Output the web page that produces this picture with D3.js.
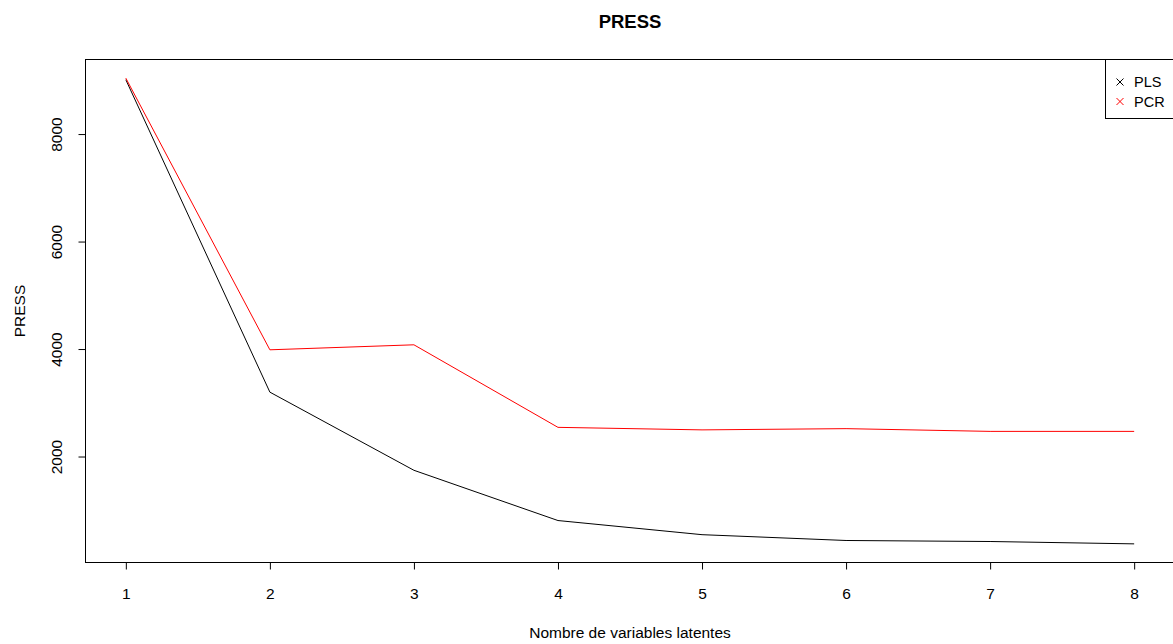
<!DOCTYPE html>
<html><head><meta charset="utf-8">
<script src="https://cdn.jsdelivr.net/npm/d3@7"></script>
<style>body{margin:0;background:#fff;} text{font-family:"Liberation Sans",Arial,sans-serif;}</style>
</head><body>
<svg id="c" width="1173" height="644"></svg>
<script>
const components = [1,2,3,4,5,6,7,8];
const plsValues = [9020,3207,1753,818,555,447,428,384];
const pcrValues = [9050,3995,4088,2552,2505,2528,2477,2477];
const xTicks = [1,2,3,4,5,6,7,8];
const yTicks = [2000,4000,6000,8000];
const seriesNames = ["PLS","PCR"];
const seriesColors = ["#000000","#ff0000"];

const FS = 15.5;
const svg = d3.select("#c");
const L=85.5, R=1174.5, T=59.5, B=562.5;
const xr = d3.extent(components), xp = (xr[1]-xr[0])*0.04;
const allY = plsValues.concat(pcrValues);
const yr = d3.extent(allY), yp = (yr[1]-yr[0])*0.04;
const x = d3.scaleLinear().domain([xr[0]-xp, xr[1]+xp]).range([L,R]);
const y = d3.scaleLinear().domain([yr[0]-yp, yr[1]+yp]).range([B,T]);

// box
svg.append("rect").attr("x",L).attr("y",T).attr("width",R-L).attr("height",B-T)
  .attr("fill","none").attr("stroke","#000").attr("stroke-width",1);

// lines
const line = d3.line().x((d,i)=>x(components[i])).y(d=>y(d));
[plsValues,pcrValues].forEach((vals,k)=>{
  svg.append("path").datum(vals).attr("d",line).attr("fill","none")
    .attr("stroke",seriesColors[k]).attr("stroke-width",1);
});

// x axis
const xa = svg.append("g").attr("transform",`translate(0,${B})`)
  .call(d3.axisBottom(x).tickValues(xTicks).tickSize(7).tickPadding(18).tickFormat(d3.format("d")));
xa.select(".domain").remove();
xa.selectAll("text").attr("font-size",FS).attr("fill","#000").attr("font-family","Liberation Sans, Arial, sans-serif");

// y axis
const ya = svg.append("g").attr("transform",`translate(${L},0)`)
  .call(d3.axisLeft(y).tickValues(yTicks).tickSize(7).tickFormat(d3.format("d")));
ya.select(".domain").remove();
ya.selectAll(".tick").attr("transform",null);
ya.selectAll(".tick line").attr("y1",d=>y(d)).attr("y2",d=>y(d)).attr("x1",0).attr("x2",-7);
ya.selectAll(".tick text").attr("font-size",FS).attr("fill","#000")
  .attr("font-family","Liberation Sans, Arial, sans-serif")
  .attr("text-anchor","middle")
  .attr("transform",d=>`rotate(-90, -28.5, ${y(d)})`).attr("x",-28.5).attr("y",d=>y(d)).attr("dy","0.35em");

// title & labels
svg.append("text").attr("x",(L+R)/2).attr("y",28).attr("text-anchor","middle")
  .attr("font-size",18.5).attr("font-weight","bold").text("PRESS");
svg.append("text").attr("x",(L+R)/2).attr("y",638).attr("text-anchor","middle")
  .attr("font-size",FS).text("Nombre de variables latentes");
svg.append("text").attr("transform",`translate(25,${(T+B)/2}) rotate(-90)`).attr("text-anchor","middle")
  .attr("font-size",FS).text("PRESS");

// legend
const lg = svg.append("g");
lg.append("rect").attr("x",1105.5).attr("y",T).attr("width",R-1105.5).attr("height",59)
  .attr("fill","#fff").attr("stroke","#000").attr("stroke-width",1);
seriesNames.forEach((n,i)=>{
  const cy = 82+i*19.5;
  const s = 3.5;
  lg.append("path").attr("d",`M${1120-s},${cy-s}L${1120+s},${cy+s}M${1120-s},${cy+s}L${1120+s},${cy-s}`)
    .attr("stroke",seriesColors[i]).attr("stroke-width",1).attr("fill","none");
  lg.append("text").attr("x",1134).attr("y",cy).attr("dy","0.35em")
    .attr("font-size",14.5).attr("fill","#000").text(n);
});
</script>
</body></html>
